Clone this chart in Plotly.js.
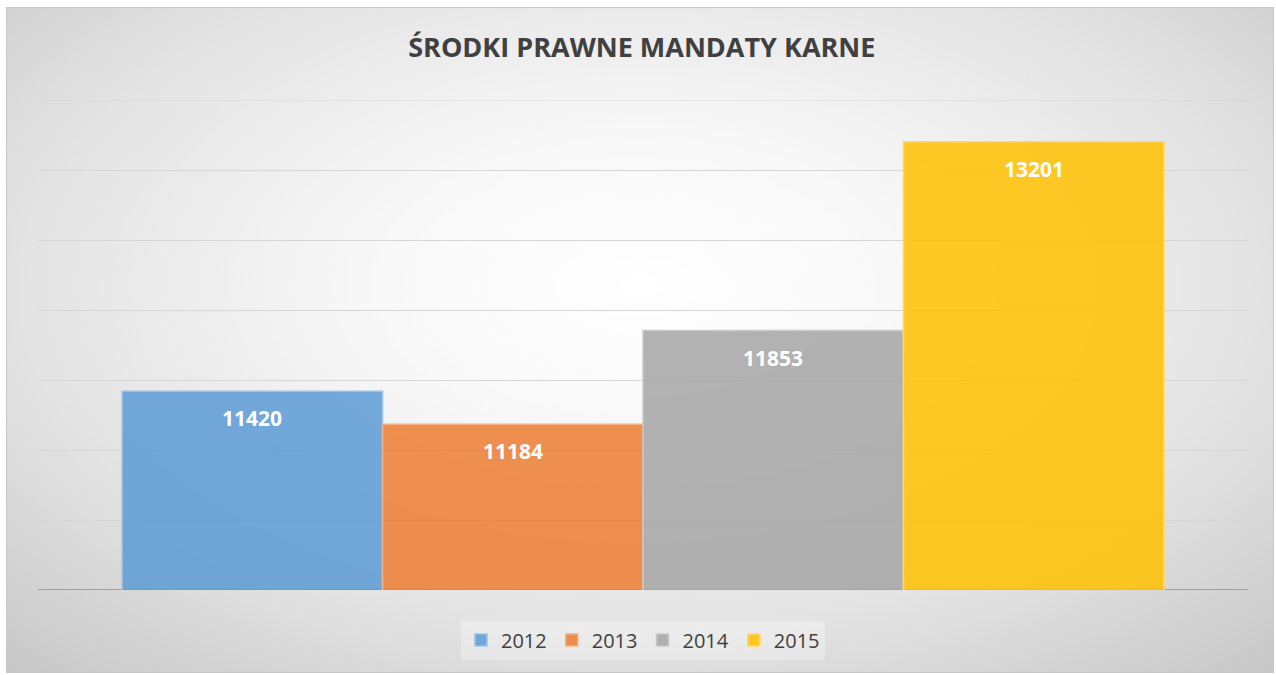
<!DOCTYPE html>
<html>
<head>
<meta charset="utf-8">
<script src="https://cdn.plot.ly/plotly-3.0.1.min.js"></script>
<style>
  html, body { margin: 0; padding: 0; background: #ffffff; }
  #bg { position: absolute; left: 6px; top: 7px; width: 1268px; height: 666px;
        border: 1px solid #c8c8c8; box-sizing: border-box;
        background: radial-gradient(ellipse 75% 80% at 50% 42%, #ffffff 0%, #f7f7f7 30%, #e3e3e3 65%, #c6c6c6 100%); }
  #chart { position: absolute; left: 0; top: 0; width: 1276px; height: 675px; }
</style>
</head>
<body>
<div id="bg"></div>
<div id="chart"></div>
<script>
const categories = ['ŚRODKI PRAWNE MANDATY KARNE'];
const seriesNames = ['2012', '2013', '2014', '2015'];
const seriesValues = [11420, 11184, 11853, 13201];
const fillColors = ['rgba(91,155,213,0.85)', 'rgba(237,125,49,0.85)', 'rgba(165,165,165,0.85)', 'rgba(255,192,0,0.85)'];
const lineColors = ['#9cc3e6', '#f4b183', '#c9c9c9', '#ffd966'];
const yMin = 10000, yMax = 13500, yStep = 500;

const traces = seriesNames.map((name, i) => ({
  type: 'bar',
  name: name,
  x: categories,
  y: [seriesValues[i]],
  marker: { color: fillColors[i], line: { color: lineColors[i], width: 1.5 } },
  textposition: 'none',
  hoverinfo: 'skip'
}));

const nSeries = seriesNames.length;
const bargap = 0.139;
const groupWidth = 1 - bargap;
const annotations = seriesValues.map((v, i) => ({
  xref: 'x', yref: 'y',
  x: -groupWidth / 2 + groupWidth / nSeries * (i + 0.5),
  y: v,
  yshift: -27,
  text: '<b>' + v + '</b>',
  showarrow: false,
  font: { family: 'Open Sans, sans-serif', size: 21, color: '#ffffff' }
}));

const layout = {
  width: 1276, height: 675,
  paper_bgcolor: 'rgba(0,0,0,0)',
  plot_bgcolor: 'rgba(0,0,0,0)',
  margin: { l: 38, r: 28, t: 100, b: 85 },
  title: {
    text: '<b>ŚRODKI PRAWNE MANDATY KARNE</b>',
    font: { family: 'Open Sans, sans-serif', size: 27, color: '#404040' },
    x: 0.503, xanchor: 'center',
    yref: 'container', y: 1 - 48 / 675, yanchor: 'middle'
  },
  barmode: 'group',
  bargap: bargap,
  bargroupgap: 0,
  xaxis: {
    type: 'category',
    showticklabels: false, showgrid: false, zeroline: false, showline: false,
    ticks: '', range: [-0.5, 0.5]
  },
  yaxis: {
    range: [yMin, yMax], dtick: yStep, tick0: yMin,
    showticklabels: false, ticks: '',
    showgrid: true, gridcolor: '#d6d6d6', gridwidth: 1,
    zeroline: false, showline: false
  },
  shapes: [
    { type: 'line', xref: 'paper', yref: 'y', x0: 0, x1: 1, y0: yMax, y1: yMax,
      line: { color: '#d6d6d6', width: 1 }, layer: 'below' },
    { type: 'line', xref: 'paper', yref: 'y', x0: 0, x1: 1, y0: yMin, y1: yMin,
      line: { color: '#8c8c8c', width: 1.5 }, layer: 'below' }
  ],
  annotations: annotations,
  showlegend: true,
  legend: {
    orientation: 'h', x: 0.5, xanchor: 'center', yref: 'container', y: 1 - 640 / 675, yanchor: 'middle',
    bgcolor: 'rgba(255,255,255,0.3)',
    font: { family: 'Open Sans, sans-serif', size: 20, color: '#404040' },
    itemwidth: 30, traceorder: 'normal'
  },
  hovermode: false
};

Plotly.newPlot('chart', traces, layout, { displayModeBar: false, staticPlot: true });
</script>
</body>
</html>
